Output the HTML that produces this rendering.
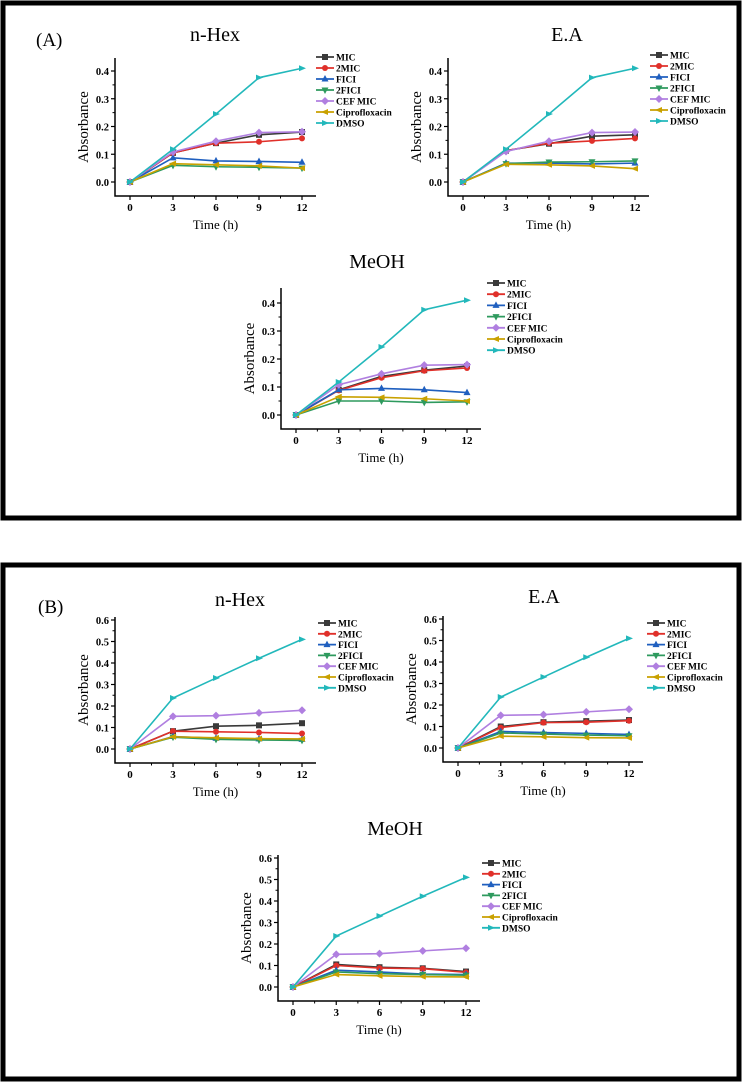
<!DOCTYPE html>
<html><head><meta charset="utf-8"><style>
html,body{margin:0;padding:0;background:#fff;}
svg{display:block;font-family:"Liberation Serif",serif;}
</style></head><body>
<svg id="s" width="742" height="1083" viewBox="0 0 742 1083">
<rect x="3" y="3" width="736" height="515" fill="none" stroke="#000" stroke-width="5"/>
<rect x="3" y="565" width="736" height="514" fill="none" stroke="#000" stroke-width="5"/>
<text x="36" y="46" font-size="19">(A)</text>
<text x="38" y="613" font-size="19">(B)</text>
</svg>
<script>
const seriesNames = ["MIC","2MIC","FICI","2FICI","CEF MIC","Ciprofloxacin","DMSO"];
const times = [0,3,6,9,12];
const xTicks = [0,3,6,9,12];
const yTicksA = [0,0.1,0.2,0.3,0.4];
const yTicksB = [0,0.1,0.2,0.3,0.4,0.5,0.6];
// Panel A
const aHexMIC=[0,0.105,0.14,0.17,0.18], aHex2MIC=[0,0.105,0.14,0.145,0.157], aHexFICI=[0,0.087,0.076,0.074,0.071], aHex2FICI=[0,0.06,0.055,0.053,0.05], aHexCEF=[0,0.108,0.147,0.178,0.181], aHexCipro=[0,0.066,0.062,0.058,0.05], aHexDMSO=[0,0.118,0.245,0.376,0.41];
const aEaMIC=[0,0.113,0.138,0.165,0.17], aEa2MIC=[0,0.113,0.14,0.148,0.157], aEaFICI=[0,0.068,0.068,0.065,0.068], aEa2FICI=[0,0.066,0.072,0.073,0.076], aEaCEF=[0,0.11,0.147,0.178,0.18], aEaCipro=[0,0.064,0.062,0.058,0.048], aEaDMSO=[0,0.118,0.245,0.376,0.41];
const aMeMIC=[0,0.09,0.138,0.16,0.175], aMe2MIC=[0,0.088,0.133,0.158,0.168], aMeFICI=[0,0.09,0.095,0.09,0.08], aMe2FICI=[0,0.05,0.05,0.045,0.047], aMeCEF=[0,0.108,0.147,0.178,0.18], aMeCipro=[0,0.065,0.063,0.058,0.05], aMeDMSO=[0,0.118,0.243,0.376,0.41];
// Panel B
const bHexMIC=[0,0.083,0.106,0.11,0.12], bHex2MIC=[0,0.083,0.08,0.077,0.072], bHexFICI=[0,0.058,0.05,0.047,0.045], bHex2FICI=[0,0.055,0.045,0.042,0.04], bHexCEF=[0,0.152,0.155,0.168,0.18], bHexCipro=[0,0.057,0.052,0.048,0.047], bHexDMSO=[0,0.237,0.33,0.422,0.51];
const bEaMIC=[0,0.1,0.12,0.125,0.13], bEa2MIC=[0,0.095,0.118,0.12,0.127], bEaFICI=[0,0.077,0.072,0.068,0.063], bEa2FICI=[0,0.07,0.065,0.06,0.057], bEaCEF=[0,0.152,0.155,0.168,0.18], bEaCipro=[0,0.055,0.052,0.048,0.047], bEaDMSO=[0,0.237,0.33,0.422,0.51];
const bMeMIC=[0,0.105,0.092,0.087,0.072], bMe2MIC=[0,0.1,0.088,0.085,0.068], bMeFICI=[0,0.078,0.07,0.06,0.058], bMe2FICI=[0,0.07,0.062,0.058,0.055], bMeCEF=[0,0.152,0.155,0.168,0.18], bMeCipro=[0,0.058,0.052,0.048,0.047], bMeDMSO=[0,0.237,0.33,0.422,0.51];

const colors=["#3a3a3a","#e0302a","#1f5fbf","#2e9a5e","#b07fe0","#c9a100","#22b8bb"];
const markers=["square","circle","tri","tridown","diamond","left","right"];
const NS="http://www.w3.org/2000/svg";
const svg=document.getElementById("s");
function mk(tag,attrs,parent){const e=document.createElementNS(NS,tag);for(const k in attrs)e.setAttribute(k,attrs[k]);(parent||svg).appendChild(e);return e;}
function marker(g,type,x,y,c){
  const r=3;let e;
  if(type==="square")e=mk("rect",{x:x-r,y:y-r,width:2*r,height:2*r,fill:c},g);
  else if(type==="circle")e=mk("circle",{cx:x,cy:y,r:r,fill:c},g);
  else{let p;
    if(type==="tri")p=[[x,y-r-1],[x-r-0.5,y+r-0.5],[x+r+0.5,y+r-0.5]];
    else if(type==="tridown")p=[[x,y+r+1],[x-r-0.5,y-r+0.5],[x+r+0.5,y-r+0.5]];
    else if(type==="diamond")p=[[x,y-r-1],[x+r+1,y],[x,y+r+1],[x-r-1,y]];
    else if(type==="left")p=[[x-r-1,y],[x+r,y-r],[x+r,y+r]];
    else p=[[x+r+1,y],[x-r,y-r],[x-r,y+r]];
    e=mk("polygon",{points:p.map(q=>q.join(",")).join(" "),fill:c},g);}
  
  
}
function chart(cfg){
  const g=mk("g",{});
  
  
  const X=t=>cfg.x0+(t-0)*(cfg.x12-cfg.x0)/12;
  const Y=v=>cfg.y0-v*(cfg.y0-cfg.yTop)/cfg.topVal;
  const left=cfg.x0-15,right=cfg.x12+14,bottom=cfg.y0+14,top=cfg.axTop;
  const t=mk("text",{x:cfg.tx,y:cfg.ty,"font-size":20,"text-anchor":"middle"},g);t.textContent=cfg.title;
  
  
  const ax=mk("path",{d:`M${left},${top}V${bottom}H${right}`,fill:"none",stroke:"#000","stroke-width":1.5},g);
  
  
  xTicks.forEach(v=>{const x=X(v);
    mk("line",{x1:x,x2:x,y1:bottom,y2:bottom+4,stroke:"#000","stroke-width":1.2},g);
    if(v<12)mk("line",{x1:X(v+1.5),x2:X(v+1.5),y1:bottom,y2:bottom+2.5,stroke:"#000","stroke-width":1},g);
    const l=mk("text",{x:x,y:bottom+15,"font-size":11,"font-weight":"bold","text-anchor":"middle"},g);l.textContent=v;
    
    });
  cfg.yTicks.forEach((v,i)=>{const y=Y(v);
    mk("line",{x1:left-4,x2:left,y1:y,y2:y,stroke:"#000","stroke-width":1.2},g);
    if(v<cfg.topVal-0.01)mk("line",{x1:left-2.5,x2:left,y1:Y(v+0.05),y2:Y(v+0.05),stroke:"#000","stroke-width":1},g);
    const l=mk("text",{x:left-6,y:y+4,"font-size":10.5,"font-weight":"bold","text-anchor":"end"},g);l.textContent=v.toFixed(1);
    
    });
  const yl=mk("text",{x:0,y:0,"font-size":15,"text-anchor":"middle",transform:`translate(${left-27},${(top+bottom)/2}) rotate(-90)`},g);yl.textContent="Absorbance";
  
  
  const xl=mk("text",{x:(left+right)/2,y:bottom+33,"font-size":13,"text-anchor":"middle"},g);xl.textContent="Time (h)";
  
  
  cfg.series.forEach((s,i)=>{
    const p=mk("polyline",{points:s.map((v,j)=>X(times[j])+","+Y(v)).join(" "),fill:"none",stroke:colors[i],"stroke-width":1.6},g);
    
    
    s.forEach((v,j)=>marker(g,markers[i],X(times[j]),Y(v),colors[i]));
  });
  seriesNames.forEach((n,i)=>{const y=cfg.ly+i*cfg.ls;
    const lg=mk("g",{},g);
    
    
    mk("line",{x1:cfg.lx,x2:cfg.lx+18,y1:y,y2:y,stroke:colors[i],"stroke-width":1.8},lg);
    marker(lg,markers[i],cfg.lx+9,y,colors[i]);
    const tt=mk("text",{x:cfg.lx+20,y:y+3.5,"font-size":9.5,"font-weight":"bold"},lg);tt.textContent=n;});
}
chart({name:"chart-a-nhex",title:"n-Hex",tx:215,ty:41,x0:130,x12:302,y0:182,yTop:71,topVal:0.4,axTop:58,yTicks:yTicksA,lx:316,ly:57,ls:11,
  series:[aHexMIC,aHex2MIC,aHexFICI,aHex2FICI,aHexCEF,aHexCipro,aHexDMSO]});
chart({name:"chart-a-ea",title:"E.A",tx:567,ty:41,x0:463,x12:635,y0:182,yTop:71,topVal:0.4,axTop:58,yTicks:yTicksA,lx:650,ly:55,ls:11,
  series:[aEaMIC,aEa2MIC,aEaFICI,aEa2FICI,aEaCEF,aEaCipro,aEaDMSO]});
chart({name:"chart-a-meoh",title:"MeOH",tx:377,ty:268,x0:296,x12:467,y0:415,yTop:303,topVal:0.4,axTop:288,yTicks:yTicksA,lx:487,ly:283,ls:11.2,
  series:[aMeMIC,aMe2MIC,aMeFICI,aMe2FICI,aMeCEF,aMeCipro,aMeDMSO]});
chart({name:"chart-b-nhex",title:"n-Hex",tx:240,ty:606,x0:130,x12:302,y0:749,yTop:620,topVal:0.6,axTop:617,yTicks:yTicksB,lx:318,ly:623,ls:10.8,
  series:[bHexMIC,bHex2MIC,bHexFICI,bHex2FICI,bHexCEF,bHexCipro,bHexDMSO]});
chart({name:"chart-b-ea",title:"E.A",tx:544,ty:603,x0:458,x12:629,y0:748,yTop:619,topVal:0.6,axTop:616,yTicks:yTicksB,lx:647,ly:623,ls:10.8,
  series:[bEaMIC,bEa2MIC,bEaFICI,bEa2FICI,bEaCEF,bEaCipro,bEaDMSO]});
chart({name:"chart-b-meoh",title:"MeOH",tx:395,ty:835,x0:293,x12:466,y0:987,yTop:858,topVal:0.6,axTop:855,yTicks:yTicksB,lx:482,ly:863,ls:10.8,
  series:[bMeMIC,bMe2MIC,bMeFICI,bMe2FICI,bMeCEF,bMeCipro,bMeDMSO]});
</script>
</body></html>
